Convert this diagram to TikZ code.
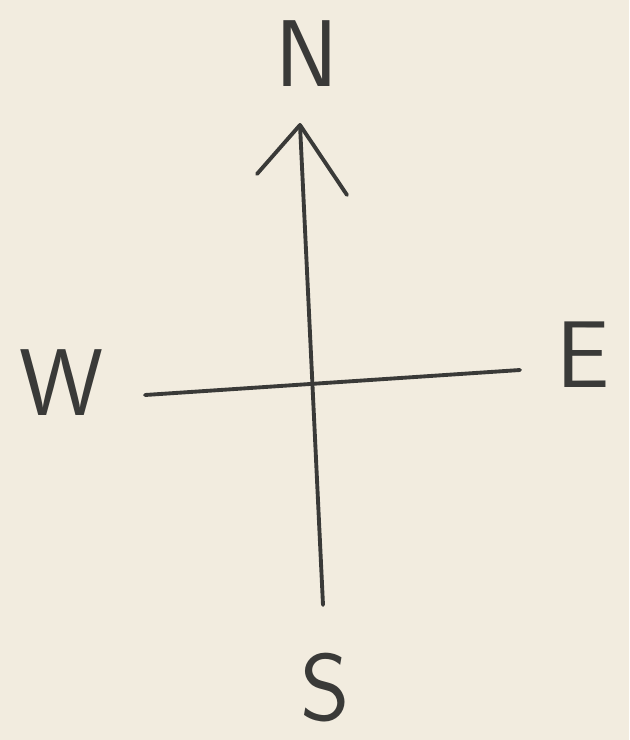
\documentclass[tikz,border=0pt]{standalone}
\usepackage{tikz}
\usetikzlibrary{positioning}
\definecolor{paper}{HTML}{F2ECDF}
\definecolor{pencil}{HTML}{3A3A38}
\tikzset{
	letter/.style={font=\fontsize{54}{54}\selectfont\sffamily, text=pencil, inner sep=0pt},
	stroke/.style={pencil, line width=2.2pt, line cap=round, line join=round}
}
\begin{document}
\begin{tikzpicture}[x=0.02cm, y=-0.02cm]
			\fill[paper] (0,0) rectangle (629,740);
			\useasboundingbox (0,0) rectangle (629,740);
			% letters
			\node[letter] (north) at (307,54) {N};
			\node[letter] (west) at (62,383) {W};
			\node[letter] (east) at (583,355) {E};
			\node[letter] (south) at (325,688) {S};
			% line ends
			\coordinate (tip) at (300,125);
			\coordinate (bottom) at (323,605);
			\coordinate (left) at (145,395);
			\coordinate (right) at (520,370);
			\coordinate (barbL) at (257,174);
			\coordinate (barbR) at (347,195);
			% axes
			\draw[stroke] (bottom) -- (tip);
			\draw[stroke] (left) -- (right);
			\draw[stroke] (barbL) -- (tip) -- (barbR);
		\end{tikzpicture}
\end{document}
